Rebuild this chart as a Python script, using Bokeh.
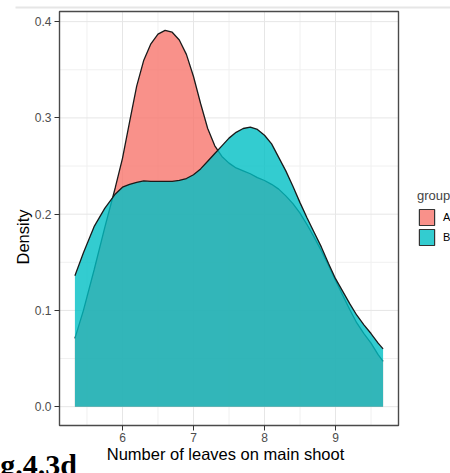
from bokeh.plotting import figure
from bokeh.models import (Range1d, FixedTicker, PrintfTickFormatter, Legend,
                          LegendItem, Label, BoxAnnotation, ColumnDataSource)
from bokeh.embed import file_html
from bokeh.resources import INLINE

# Kernel density estimates of leaf number on the main shoot, per group
leaves = [5.33, 5.45, 5.6, 5.75, 5.9, 6.0, 6.1, 6.2, 6.3, 6.4, 6.5, 6.6, 6.7,
          6.8, 6.9, 7.0, 7.1, 7.2, 7.3, 7.4, 7.5, 7.6, 7.7, 7.8, 7.9, 8.0,
          8.1, 8.2, 8.3, 8.4, 8.5, 8.6, 8.7, 8.8, 8.9, 9.0, 9.1, 9.2, 9.3,
          9.4, 9.5, 9.6, 9.67]
density_a = [0.071, 0.100, 0.142, 0.186, 0.228, 0.258, 0.296, 0.333, 0.360,
             0.377, 0.387, 0.391, 0.389, 0.381, 0.366, 0.343, 0.315, 0.289,
             0.271, 0.260, 0.253, 0.248, 0.245, 0.242, 0.238, 0.235, 0.231,
             0.226, 0.219, 0.211, 0.201, 0.189, 0.176, 0.162, 0.147, 0.131,
             0.116, 0.101, 0.087, 0.076, 0.066, 0.054, 0.047]
density_b = [0.136, 0.160, 0.187, 0.206, 0.221, 0.228, 0.231, 0.233, 0.2345,
             0.234, 0.234, 0.234, 0.234, 0.235, 0.237, 0.241, 0.247, 0.255,
             0.263, 0.271, 0.279, 0.285, 0.289, 0.2905, 0.288, 0.282, 0.273,
             0.259, 0.245, 0.229, 0.212, 0.196, 0.181, 0.166, 0.149, 0.133,
             0.120, 0.107, 0.095, 0.085, 0.076, 0.066, 0.060]
groups = ["A", "B"]
group_colors = ["#F8766D", "#00BFC4"]
caption_text = "Fig.4.3d"

x_ticks = [6, 7, 8, 9]
x_minor = [5.5, 6.5, 7.5, 8.5, 9.5]
y_ticks = [0.0, 0.1, 0.2, 0.3, 0.4]
y_minor = [0.05, 0.15, 0.25, 0.35]

FONT = "Liberation Sans"
W, H = 450, 473
# plotting panel position on the canvas, in pixels
PANEL_L, PANEL_R, PANEL_T, PANEL_B = 59, 398, 11, 425

# data limits of the panel (5 % expansion around the data)
x_lo, x_hi = min(leaves), max(leaves)
x_pad = (x_hi - x_lo) * 0.05
px0, px1 = x_lo - x_pad, x_hi + x_pad
y_top = max(max(density_a), max(density_b))
y_pad = y_top * 0.05
py0, py1 = -y_pad, y_top + y_pad

# the frame covers the whole canvas; ranges are widened so the panel
# lands at its pixel position and the margins stay drawable
kx = (PANEL_R - PANEL_L) / (px1 - px0)
ky = (PANEL_B - PANEL_T) / (py1 - py0)
x_range = Range1d(px0 - PANEL_L / kx, px1 + (W - PANEL_R) / kx)
y_range = Range1d(py0 - (H - PANEL_B) / ky, py1 + PANEL_T / ky)

p = figure(width=W, height=H, output_backend="svg", toolbar_location=None,
           x_range=x_range, y_range=y_range, min_border=0)
p.background_fill_color = "white"
p.border_fill_color = "white"
p.outline_line_color = None
p.grid.visible = False

# thin rule along the top of the page
p.add_layout(BoxAnnotation(left=15, right=W, top=H - 6, bottom=H - 8,
                           left_units="screen", right_units="screen",
                           top_units="screen", bottom_units="screen",
                           fill_color="#E6E6E6", fill_alpha=1,
                           line_color=None, level="annotation"))

# panel grid: major and minor lines, confined to the panel
grid_x = x_ticks + x_minor
grid_y = y_ticks + y_minor
p.segment(x0=grid_x, x1=grid_x, y0=[py0] * len(grid_x), y1=[py1] * len(grid_x),
          line_color=["#E6E6E6"] * len(x_ticks) + ["#F0F0F0"] * len(x_minor),
          line_width=1, level="underlay")
p.segment(x0=[px0] * len(grid_y), x1=[px1] * len(grid_y), y0=grid_y, y1=grid_y,
          line_color=["#E6E6E6"] * len(y_ticks) + ["#F0F0F0"] * len(y_minor),
          line_width=1, level="underlay")

src = ColumnDataSource(dict(x=leaves, a=density_a, b=density_b))

# group A first, then B drawn over it
for col, color in zip(["a", "b"], group_colors):
    p.varea(x="x", y1=0, y2=col, source=src, fill_color=color, fill_alpha=0.8)
    p.line(x="x", y=col, source=src, line_color="#1a1a1a", line_width=1.3)

# panel border
p.quad(left=[px0], right=[px1], bottom=[py0], top=[py1], fill_color=None,
       line_color="#4A4A4A", line_width=1.4)

# axes pinned to the panel edges
p.xaxis.fixed_location = py0
p.yaxis.fixed_location = px0
p.xaxis.ticker = FixedTicker(ticks=x_ticks, minor_ticks=x_minor)
p.yaxis.ticker = FixedTicker(ticks=y_ticks, minor_ticks=y_minor)
p.yaxis.formatter = PrintfTickFormatter(format="%.1f")

for ax in (p.xaxis, p.yaxis):
    ax.axis_line_color = None
    ax.major_tick_line_color = "#333333"
    ax.major_tick_line_width = 1
    ax.major_tick_out = 5
    ax.major_tick_in = 0
    ax.minor_tick_line_color = None
    ax.major_label_text_font = FONT
    ax.major_label_text_font_size = "12px"
    ax.major_label_text_color = "#4D4D4D"
    ax.axis_label_text_font = FONT
    ax.axis_label_text_font_size = "16.5px"
    ax.axis_label_text_font_style = "normal"
    ax.axis_label_text_color = "#000000"

p.xaxis.axis_label = "Number of leaves on main shoot"
p.yaxis.axis_label = "Density"
p.xaxis.major_label_standoff = 2
p.xaxis.axis_label_standoff = 0
p.yaxis.major_label_standoff = 3
p.yaxis.axis_label_standoff = 0

# legend keys: outlined boxes from hidden quad renderers
items = []
for name, color, col in zip(groups, group_colors, ["a", "b"]):
    r = p.quad(left="x", right="x", top=col, bottom=col, source=src,
               fill_color=color, fill_alpha=0.8, line_color="#333333",
               line_width=1.2)
    r.visible = False
    items.append(LegendItem(label=name, renderers=[r]))

legend = Legend(items=items, title="group", location=(417, H - 247),
                orientation="vertical", padding=0, margin=0, spacing=0,
                glyph_width=19, glyph_height=20, label_standoff=7,
                label_text_font=FONT, label_text_font_size="11px",
                label_text_color="#000000",
                title_text_font=FONT, title_text_font_size="13px",
                title_text_font_style="normal", title_standoff=4,
                border_line_color=None, background_fill_alpha=0,
                inactive_fill_alpha=0)
p.add_layout(legend)

# figure caption in the lower-left corner
p.add_layout(Label(x=-27, y=9, x_units="screen", y_units="screen",
                   text=caption_text, text_font="Liberation Serif",
                   text_font_size="30px", text_font_style="bold",
                   text_color="#000000", text_baseline="alphabetic"))

open("out.html", "w").write(file_html(p, INLINE))
